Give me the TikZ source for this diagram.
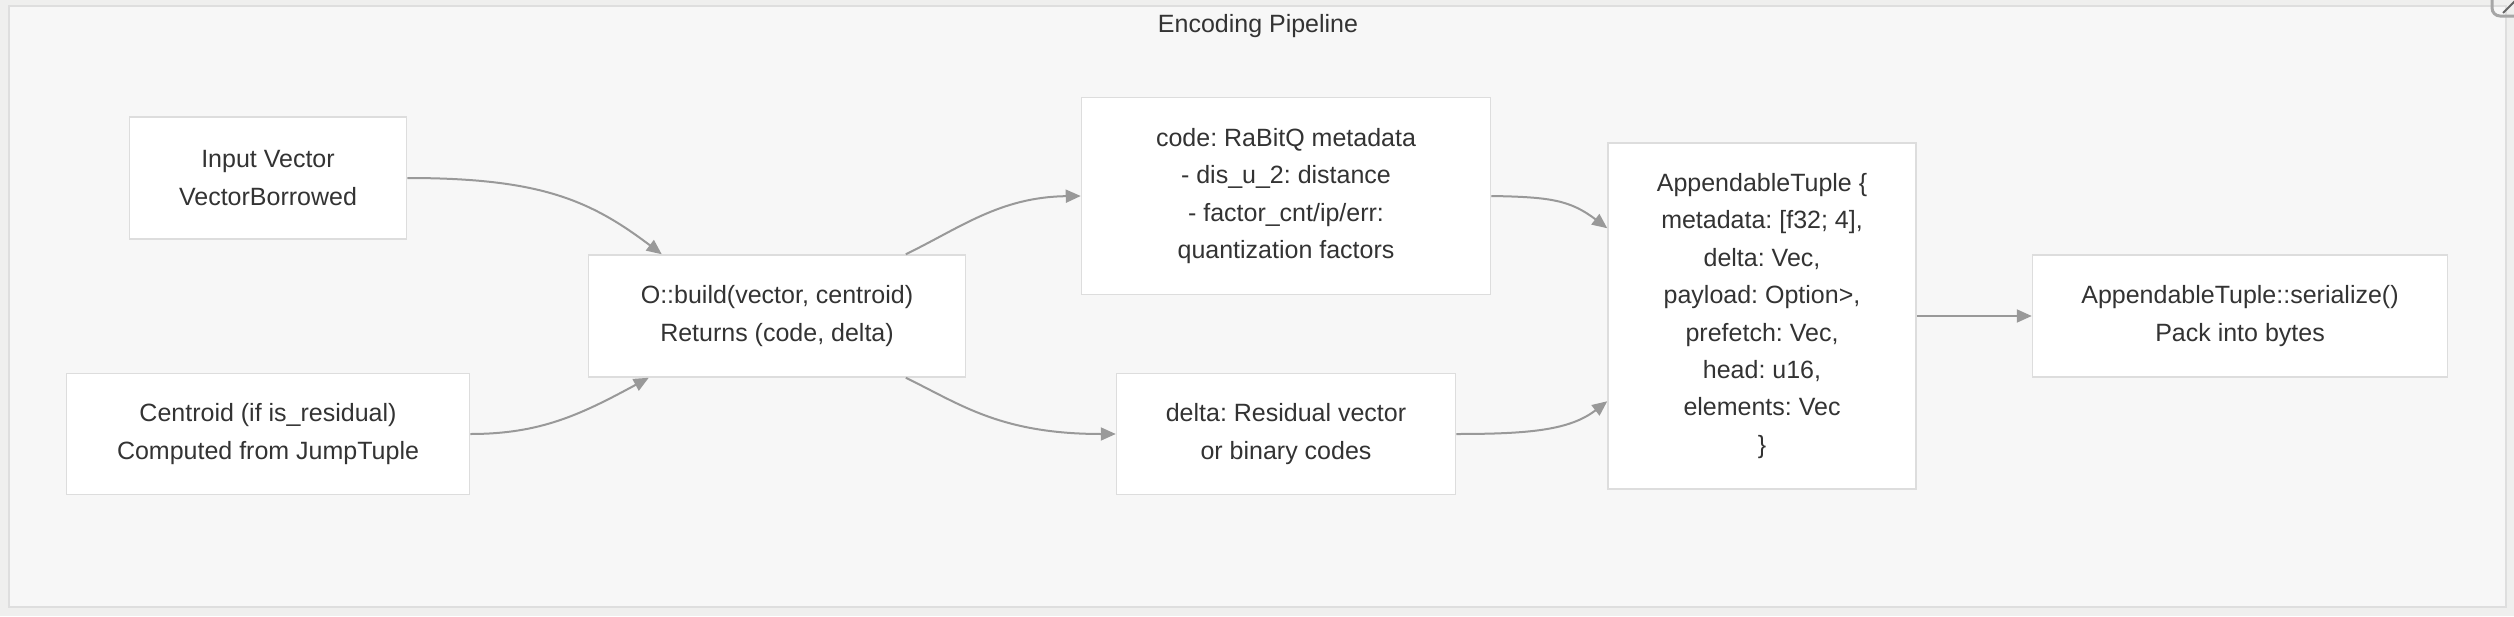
\documentclass[tikz,border=0pt]{standalone}
\usepackage{fontspec}
\setmainfont{Liberation Sans}
\usetikzlibrary{arrows.meta,calc}
\definecolor{outerbg}{HTML}{EFEFEE}
\definecolor{clusterbg}{HTML}{F7F7F7}
\definecolor{clusterline}{HTML}{DEDEDE}
\definecolor{boxline}{HTML}{DDDDDD}
\definecolor{edgecol}{HTML}{999999}
\definecolor{txt}{HTML}{333333}
\tikzset{
  box/.style={draw=boxline, fill=white, line width=1.5pt, align=center, inner sep=0pt,
    text=txt, font=\fontsize{25}{37.4}\selectfont\frenchspacing},
  conn/.style={draw=edgecol, line width=2pt, -{Triangle[length=15pt,width=13pt]}},
}
\begin{document}
\begin{tikzpicture}[x=1pt,y=-1pt]
\useasboundingbox (0,0) rectangle (2514,616);
\fill[outerbg] (0,0) rectangle (2514,616);
\draw[draw=clusterline, fill=clusterbg, line width=2pt] (9,6) rectangle (2506,607);
\node[text=txt, font=\fontsize{25}{28}\selectfont\frenchspacing] (title) at (1258,26) {Encoding Pipeline};
% top-right icon fragment
\draw[draw=black!35, line width=3pt, rounded corners=8pt] (2492,-20) rectangle (2540,16);
\draw[draw=black!60, line width=2pt] (2503,13) -- (2516,0);

\node[box, minimum width=277pt, minimum height=122pt] (input) at (268,178) {Input Vector\\VectorBorrowed};
\node[box, minimum width=403pt, minimum height=121pt] (centroid) at (268,434) {Centroid (if is\_residual)\\Computed from JumpTuple};
\node[box, minimum width=377pt, minimum height=122pt] (build) at (777,316) {O::build(vector, centroid)\\Returns (code, delta)};
\node[box, minimum width=409pt, minimum height=197pt] (code) at (1286,196) {code: RaBitQ metadata\\- dis\_u\_2: distance\\- factor\_cnt/ip/err:\\quantization factors};
\node[box, minimum width=339pt, minimum height=121pt] (delta) at (1286,434) {delta: Residual vector\\or binary codes};
\node[box, minimum width=308pt, minimum height=346pt] (tuple) at (1762,316) {AppendableTuple \{\\metadata: [f32; 4],\\delta: Vec,\\payload: Option>,\\prefetch: Vec,\\head: u16,\\elements: Vec\\\}};
\node[box, minimum width=415pt, minimum height=122pt] (ser) at (2240,316) {AppendableTuple::serialize()\\Pack into bytes};

\coordinate (bTopL) at ($(build.north west)+(74,0)$);
\coordinate (bBotL) at ($(build.south west)+(61,0)$);
\coordinate (bTopR) at ($(build.north west)+(318,0)$);
\coordinate (bBotR) at ($(build.south west)+(318,0)$);
\coordinate (tIn1) at ($(tuple.north west)+(0,86)$);
\coordinate (tIn2) at ($(tuple.north west)+(0,259)$);
\coordinate (codeIn) at (code.west);
\coordinate (deltaIn) at (delta.west);

\draw[conn] (input.east) .. controls (540,178) and (590,200) .. (bTopL);
\draw[conn] (centroid.east) .. controls (540,434) and (580,415) .. (bBotL);
\draw[conn] (bTopR) .. controls (960,228) and (1000,197) .. (codeIn);
\draw[conn] (bBotR) .. controls (960,404) and (1000,434) .. (deltaIn);
\draw[conn] (code.east) .. controls (1550,197) and (1570,200) .. (tIn1);
\draw[conn] (delta.east) .. controls (1530,434) and (1570,430) .. (tIn2);
\draw[conn] (tuple.east) -- (ser.west);
\end{tikzpicture}
\end{document}
